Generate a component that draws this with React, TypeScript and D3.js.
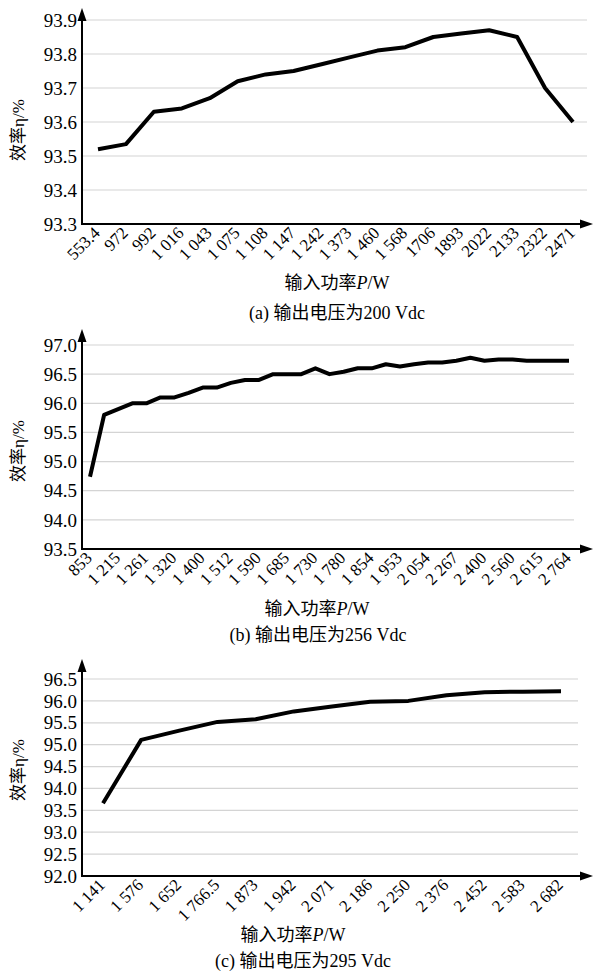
import React, { useEffect, useRef } from 'react';
import * as d3 from 'd3';

// (a) output voltage 200 Vdc
const labelsA = ['553.4', '972', '992', '1 016', '1 043', '1 075', '1 108', '1 147', '1 242',
  '1 373', '1 460', '1 568', '1706', '1893', '2022', '2133', '2322', '2471'];
const valuesA = [93.52, 93.535, 93.63, 93.64, 93.67, 93.72, 93.74, 93.75, 93.77,
  93.79, 93.81, 93.82, 93.85, 93.86, 93.87, 93.85, 93.70, 93.60];

// (b) output voltage 256 Vdc -- only every second point is labelled
const labelsB = ['853', '1 215', '1 261', '1 320', '1 400', '1 512', '1 590', '1 685', '1 730',
  '1 780', '1 854', '1 953', '2 054', '2 267', '2 400', '2 560', '2 615', '2 764'];
const valuesB = [94.74, 95.80, 95.90, 96.00, 96.00, 96.10, 96.10, 96.18, 96.27, 96.27,
  96.35, 96.40, 96.40, 96.50, 96.50, 96.50, 96.60, 96.50, 96.54, 96.60,
  96.60, 96.67, 96.63, 96.67, 96.70, 96.70, 96.73, 96.78, 96.73, 96.75,
  96.75, 96.73, 96.73, 96.73, 96.73];

// (c) output voltage 295 Vdc
const labelsC = ['1 141', '1 576', '1 652', '1 766.5', '1 873', '1 942', '2 071', '2 186',
  '2 250', '2 376', '2 452', '2 583', '2 682'];
const valuesC = [93.66, 95.11, 95.32, 95.52, 95.58, 95.76, 95.87, 95.98, 96.00,
  96.13, 96.20, 96.21, 96.22];

const captions = ['(a) 输出电压为200 Vdc', '(b) 输出电压为256 Vdc', '(c) 输出电压为295 Vdc'];

const FONT = '"Liberation Serif", "Times New Roman", "Noto Sans CJK SC", serif';

const panels = [
  { labels: labelsA, values: valuesA, every: 1, yMin: 93.3, yMax: 93.9, yStep: 0.1,
    top: 20, bottom: 224, arrowTop: 8, xFirst: 98, xLast: 573, gridEnd: 587,
    titleY: 130, xlabX: 337, xlabY: 289, capX: 337, capY: 319, caption: captions[0] },
  { labels: labelsB, values: valuesB, every: 2, yMin: 93.5, yMax: 97.0, yStep: 0.5,
    top: 345, bottom: 549, arrowTop: 329, xFirst: 90, xLast: 569, gridEnd: 574,
    titleY: 451, xlabX: 317, xlabY: 615, capX: 318, capY: 641, caption: captions[1] },
  { labels: labelsC, values: valuesC, every: 1, yMin: 92.0, yMax: 96.5, yStep: 0.5,
    top: 679, bottom: 876, arrowTop: 659, xFirst: 103, xLast: 561, gridEnd: 578,
    titleY: 770, xlabX: 293, xlabY: 941, capX: 303, capY: 967, caption: captions[2] },
];

const AXIS_X = 82;
const AXIS_END = 593;

export default function App() {
  const ref = useRef<SVGSVGElement>(null);

  useEffect(() => {
    const svg = d3.select(ref.current);
    svg.selectAll('*').remove();
    svg.append('rect').attr('width', 594).attr('height', 971).attr('fill', '#fff');

    panels.forEach(p => {
      const g = svg.append('g');
      const n = p.values.length;
      const x = d3.scalePoint<number>().domain(d3.range(n)).range([p.xFirst, p.xLast]);
      const y = d3.scaleLinear().domain([p.yMin, p.yMax]).range([p.bottom, p.top]);
      const ticks = d3.range(Math.round((p.yMax - p.yMin) / p.yStep) + 1).map(i => p.yMin + i * p.yStep);

      // grid
      g.append('g').selectAll('line')
        .data(ticks.slice(1))
        .enter().append('line')
        .attr('x1', AXIS_X).attr('x2', p.gridEnd)
        .attr('y1', d => y(d)).attr('y2', d => y(d))
        .attr('stroke', '#d4d4d4').attr('stroke-width', 1.2);

      // y tick labels
      g.append('g').selectAll('text')
        .data(ticks)
        .enter().append('text')
        .attr('x', 77).attr('y', d => y(d)).attr('dy', '0.35em')
        .attr('text-anchor', 'end')
        .attr('font-family', FONT).attr('font-size', 19)
        .text(d => d.toFixed(1));

      // axes with arrows
      g.append('line').attr('x1', AXIS_X).attr('x2', AXIS_X)
        .attr('y1', p.bottom).attr('y2', p.arrowTop + 8)
        .attr('stroke', '#000').attr('stroke-width', 2);
      g.append('path')
        .attr('d', `M${AXIS_X},${p.arrowTop} L${AXIS_X - 4.5},${p.arrowTop + 13} L${AXIS_X + 4.5},${p.arrowTop + 13} Z`)
        .attr('fill', '#000');
      g.append('line').attr('x1', AXIS_X - 1).attr('x2', AXIS_END - 8)
        .attr('y1', p.bottom).attr('y2', p.bottom)
        .attr('stroke', '#000').attr('stroke-width', 2);
      g.append('path')
        .attr('d', `M${AXIS_END},${p.bottom} L${AXIS_END - 13},${p.bottom - 4.5} L${AXIS_END - 13},${p.bottom + 4.5} Z`)
        .attr('fill', '#000');

      // x tick labels
      g.append('g').selectAll('text')
        .data(p.labels)
        .enter().append('text')
        .attr('transform', (d, i) => `translate(${(x(i * p.every) as number) + 3},${p.bottom + 10}) rotate(-45)`)
        .attr('text-anchor', 'end')
        .attr('font-family', FONT).attr('font-size', 17)
        .text(d => d);

      // line
      const line = d3.line<number>().x((d, i) => x(i) as number).y(d => y(d));
      g.append('path')
        .datum(p.values)
        .attr('d', line)
        .attr('fill', 'none')
        .attr('stroke', '#000')
        .attr('stroke-width', 4)
        .attr('stroke-linejoin', 'round')
        .attr('stroke-linecap', 'butt');

      // titles
      g.append('text')
        .attr('transform', `translate(24,${p.titleY}) rotate(-90)`)
        .attr('text-anchor', 'middle')
        .attr('font-family', FONT).attr('font-size', 17)
        .text('效率η/%');

      const xl = g.append('text')
        .attr('x', p.xlabX).attr('y', p.xlabY)
        .attr('text-anchor', 'middle')
        .attr('font-family', FONT).attr('font-size', 18);
      xl.append('tspan').text('输入功率');
      xl.append('tspan').attr('font-style', 'italic').text('P');
      xl.append('tspan').text('/W');

      g.append('text')
        .attr('x', p.capX).attr('y', p.capY)
        .attr('text-anchor', 'middle')
        .attr('font-family', FONT).attr('font-size', 18)
        .text(p.caption);
    });
  }, []);

  return (
    <svg ref={ref} width={594} height={971}
      style={{ position: 'absolute', left: 0, top: 0, display: 'block' }} />
  );
}
